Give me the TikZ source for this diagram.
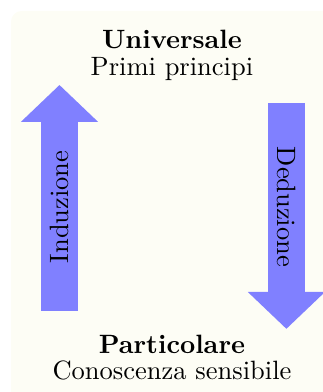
\documentclass[tikz,border=0pt]{standalone}
\usetikzlibrary{arrows.meta}
\definecolor{bgcream}{HTML}{FDFDF5}
\definecolor{arrowblue}{HTML}{8080FF}

\begin{document}
\begin{tikzpicture}[
    bigarrow/.style={draw=arrowblue, line width=0.49cm,
      -{Triangle[length=0.49cm, width=0.995cm]}},
    label/.style={anchor=base, inner sep=0pt}]
  \useasboundingbox (0,0) rectangle (4.28,5.20);
  \fill[bgcream, rounded corners=4pt] (0.146,-0.5) rectangle (4.7,5.054);
  % top and bottom texts
  \node[label, font=\bfseries] (univ) at (2.281,4.550) {Universale};
  \node[label] (primi) at (2.281,4.192) {Primi principi};
  \node[label, font=\bfseries] (part) at (2.281,0.506) {Particolare};
  \node[label] (conosc) at (2.281,0.161) {Conoscenza sensibile};
  % the two arrows
  \coordinate (indtail) at (0.789,1.076);
  \coordinate (indtip) at (0.789,4.073);
  \coordinate (dedtail) at (3.799,3.834);
  \coordinate (dedtip) at (3.799,0.837);
  \draw[bigarrow] (indtail) -- (indtip);
  \draw[bigarrow] (dedtail) -- (dedtip);
  \node[rotate=90] (ind) at (0.789,2.455) {Induzione};
  \node[rotate=-90] (ded) at (3.799,2.455) {Deduzione};
\end{tikzpicture}
\end{document}
